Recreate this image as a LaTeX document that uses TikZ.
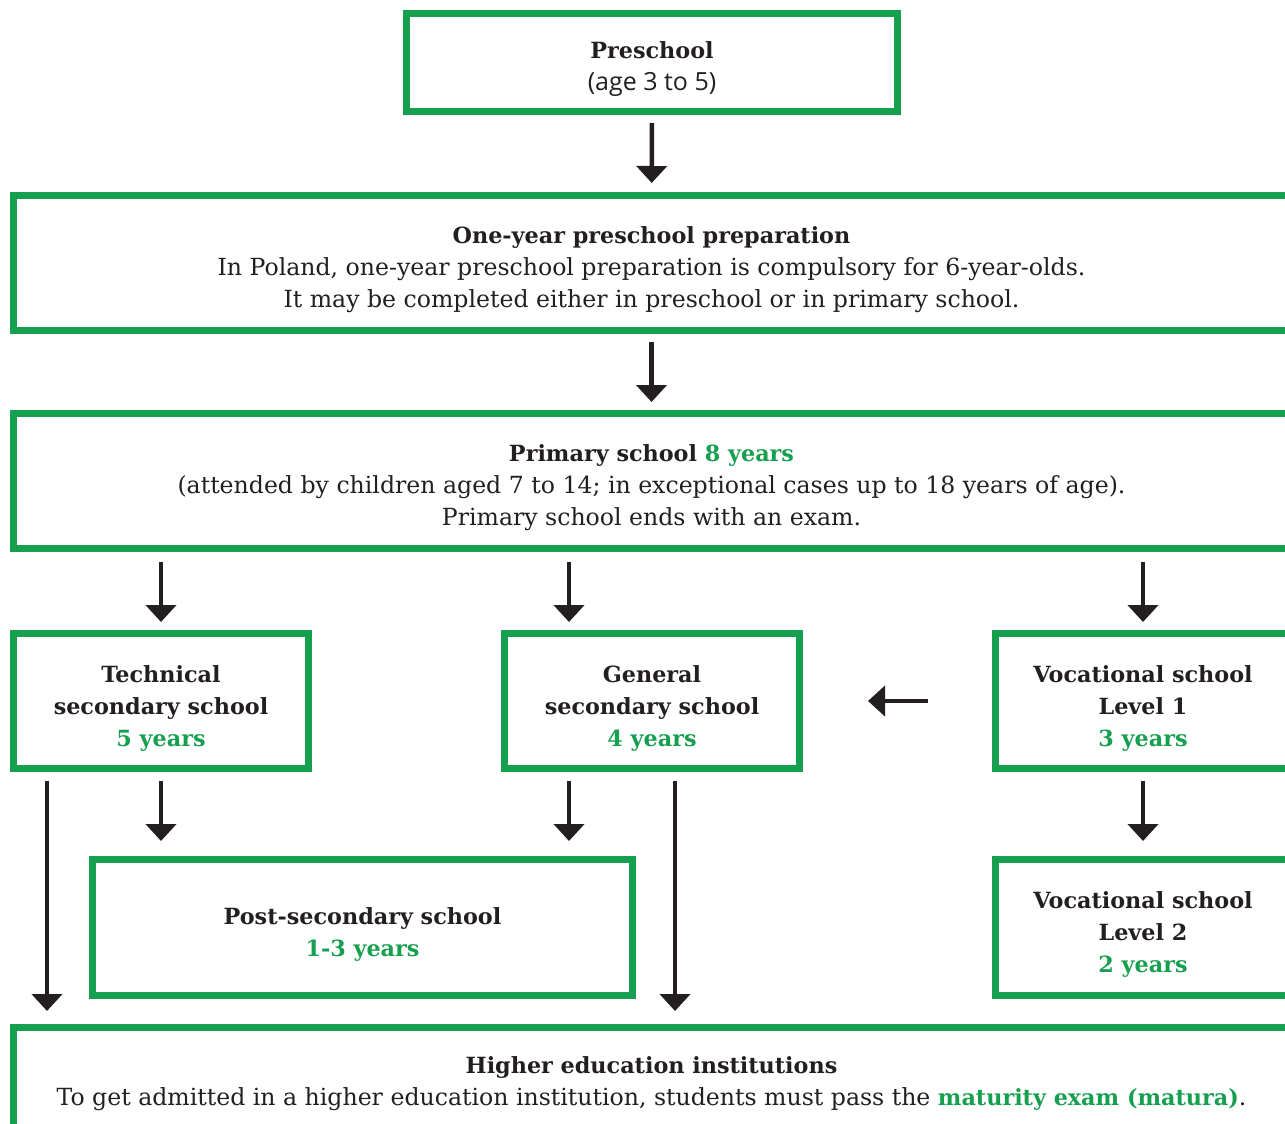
\documentclass[tikz,border=0pt]{standalone}
\usepackage{fontspec}
\setmainfont{DejaVu Serif}
\newfontfamily\agefont{Open Sans}
\usetikzlibrary{arrows.meta}
\definecolor{grn}{HTML}{179F50}
\definecolor{ink}{HTML}{231F20}
\newcommand\hd[1]{{\fontsize{22.3}{32}\selectfont\bfseries #1}}
\newcommand\upstrut{\rule{0pt}{31pt}}
\begin{document}
\begin{tikzpicture}[x=1pt,y=-1pt,
  box/.style={draw=grn,line width=7pt,align=center,inner sep=0pt,text=ink,
    font=\fontsize{23.6}{32}\selectfont},
  bbox/.style={box,font=\fontsize{22.3}{32}\selectfont\bfseries},
  arr/.style={draw=ink,line width=4.5pt,-{Triangle[width=30pt,length=17pt]}}]
\useasboundingbox (0,0) rectangle (1285,1124);
\clip (0,0) rectangle (1285,1124);
\node[box,minimum width=491pt,minimum height=98pt] (pre) at (652,62.5)
  {\upstrut\hd{Preschool}\\{\agefont\fontsize{25}{32}\selectfont (age 3 to 5)}};
\node[box,minimum width=1276pt,minimum height=135pt] (one) at (651.5,263)
  {\upstrut\hd{One-year preschool preparation}\\
   In Poland, one-year preschool preparation is compulsory for 6-year-olds.\\
   It may be completed either in preschool or in primary school.};
\node[box,minimum width=1276pt,minimum height=135pt] (prim) at (651.5,481)
  {\upstrut\hd{Primary school \textcolor{grn}{8 years}}\\
   (attended by children aged 7 to 14; in exceptional cases up to 18 years of age).\\
   Primary school ends with an exam.};
\node[bbox,minimum width=295pt,minimum height=135pt] (tech) at (161,701)
  {\upstrut Technical\\secondary school\\\textcolor{grn}{5 years}};
\node[bbox,minimum width=295pt,minimum height=135pt] (gen) at (652,701)
  {\upstrut General\\secondary school\\\textcolor{grn}{4 years}};
\node[bbox,minimum width=295pt,minimum height=135pt] (voc1) at (1143,701)
  {\upstrut Vocational school\\Level 1\\\textcolor{grn}{3 years}};
\node[bbox,minimum width=540pt,minimum height=136pt] (post) at (362.5,927.5)
  {\upstrut Post-secondary school\\\textcolor{grn}{1-3 years}};
\node[bbox,minimum width=295pt,minimum height=136pt] (voc2) at (1143,927.5)
  {\upstrut Vocational school\\Level 2\\\textcolor{grn}{2 years}};
\node[box,minimum width=1276pt,minimum height=107pt] (high) at (651.5,1081)
  {\rule{0pt}{23pt}\hd{Higher education institutions}\\
   To get admitted in a higher education institution, students must pass the \hd{\textcolor{grn}{maturity exam (matura)}}.};
\coordinate (gtop) at ([xshift=-83pt]gen.north);
\coordinate (gbot) at ([xshift=-83pt]gen.south);
\coordinate (gbot2) at ([xshift=23pt]gen.south);
\coordinate (tbot) at ([xshift=-114pt]tech.south);
\draw[arr,shorten <=8pt,shorten >=9pt] (pre) -- (one);
\draw[arr,shorten <=8pt,shorten >=8pt] (one) -- (prim);
\draw[arr,shorten <=10pt,shorten >=8pt] (prim.south -| tech) -- (tech.north);
\draw[arr,shorten <=10pt,shorten >=8pt] (prim.south -| gtop) -- (gtop);
\draw[arr,shorten <=10pt,shorten >=8pt] (prim.south -| voc1) -- (voc1.north);
\draw[arr,shorten <=64pt,shorten >=65pt] (voc1.west) -- (gen.east);
\draw[arr,shorten <=9pt,shorten >=15pt] (tech.south) -- (tech.south |- post.north);
\draw[arr,shorten <=9pt,shorten >=15pt] (gbot) -- (gbot |- post.north);
\draw[arr,shorten <=9pt,shorten >=15pt] (voc1) -- (voc2);
\draw[arr,shorten <=9pt,shorten >=13pt] (tbot) -- (tbot |- high.north);
\draw[arr,shorten <=9pt,shorten >=13pt] (gbot2) -- (gbot2 |- high.north);
\end{tikzpicture}
\end{document}
